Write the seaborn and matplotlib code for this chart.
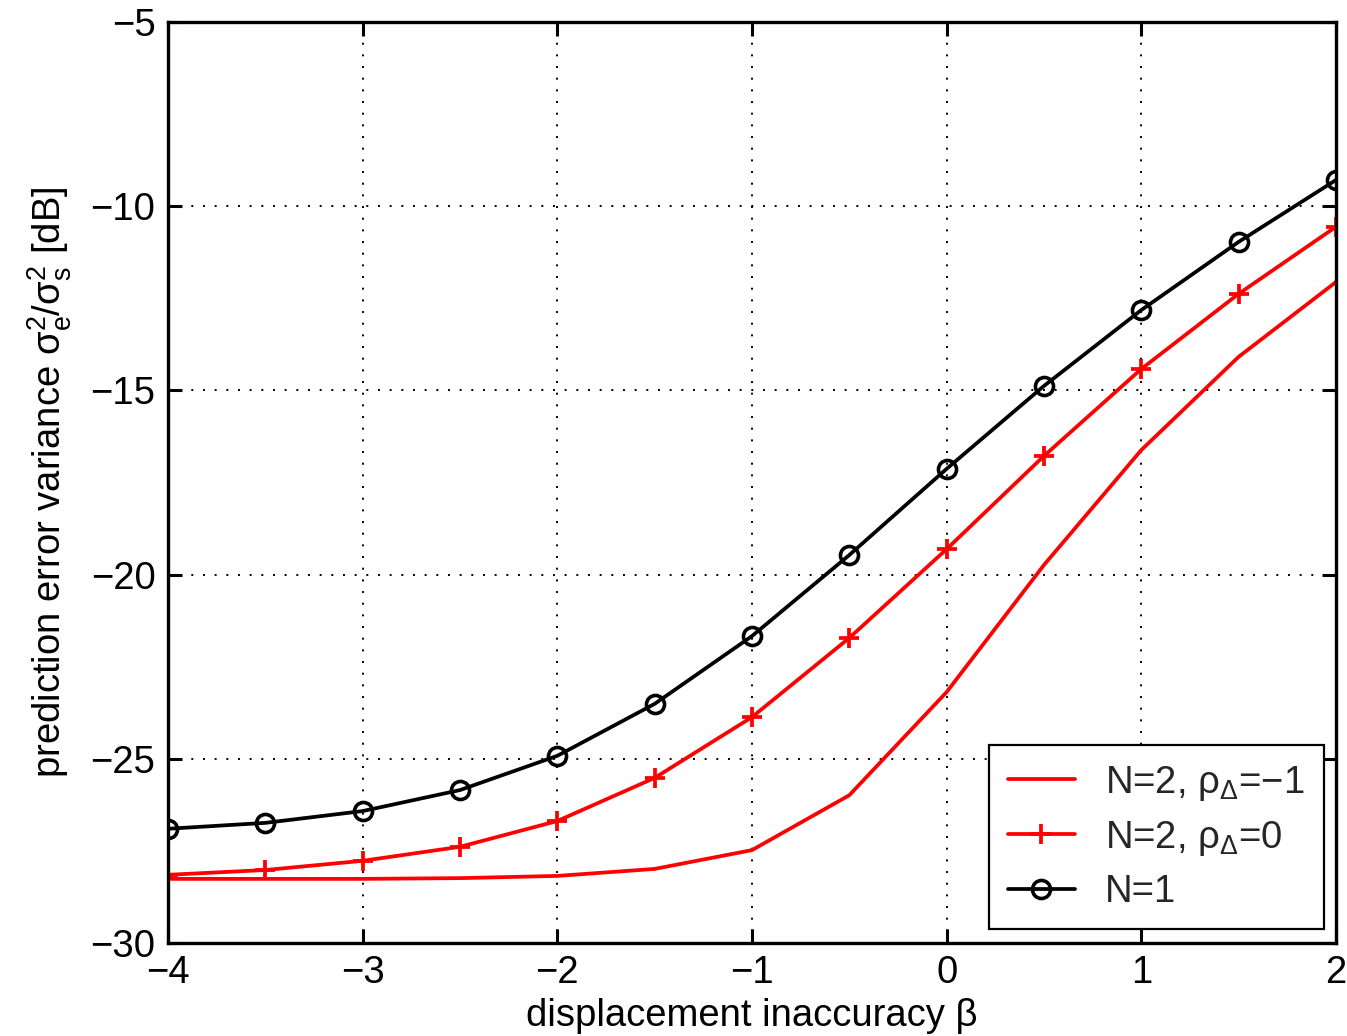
import numpy as np
import pandas as pd
import matplotlib
matplotlib.use("Agg")
import matplotlib.pyplot as plt
import seaborn as sns

beta = [-4.0, -3.5, -3.0, -2.5, -2.0, -1.5, -1.0, -0.5, 0.0, 0.5, 1.0, 1.5, 2.0]
n2_rho_m1 = [-28.26, -28.26, -28.26, -28.24, -28.18, -27.99, -27.48, -25.99, -23.19, -19.74, -16.62, -14.09, -12.06]
n2_rho_0 = [-28.15, -28.02, -27.77, -27.39, -26.69, -25.52, -23.87, -21.72, -19.31, -16.78, -14.42, -12.38, -10.56]
n1 = [-26.90, -26.74, -26.42, -25.85, -24.92, -23.51, -21.67, -19.47, -17.13, -14.88, -12.82, -10.97, -9.29]

labels = ['N=2, $\\rho_\\Delta$=\u22121', 'N=2, $\\rho_\\Delta$=0', 'N=1']
xticks = [-4, -3, -2, -1, 0, 1, 2]
yticks = [-30, -25, -20, -15, -10, -5]

sns.set_theme(style="white")
plt.rcParams['font.family'] = ['Liberation Sans', 'DejaVu Sans']
plt.rcParams['mathtext.default'] = 'regular'
plt.rcParams['axes.unicode_minus'] = True

FS = 27.5
LW = 2.7

fig = plt.figure(figsize=(13.47, 10.36), dpi=100)
ax = fig.add_axes([0.1247, 0.0898, 0.8671, 0.8890])

df = pd.DataFrame({'beta': beta, 'a': n2_rho_m1, 'b': n2_rho_0, 'c': n1})
sns.lineplot(data=df, x='beta', y='a', ax=ax, color='#ff0000', lw=LW, label=labels[0])
sns.lineplot(data=df, x='beta', y='b', ax=ax, color='#ff0000', lw=LW, marker='+',
             markersize=14, markeredgewidth=2.7, markeredgecolor='#ff0000', label=labels[1])
sns.lineplot(data=df, x='beta', y='c', ax=ax, color='black', lw=LW, marker='o',
             markersize=13, markerfacecolor='none', markeredgecolor='black',
             markeredgewidth=2.6, label=labels[2])

ax.set_xlim(-4, 2)
ax.set_ylim(-30, -5)
ax.set_xticks(xticks)
ax.set_yticks(yticks)
ax.grid(True, color='black', linestyle=(0, (1, 5)), linewidth=1.4)
ax.tick_params(direction='in', length=10, width=2.2, labelsize=FS, top=True, right=True,
               bottom=True, left=True, colors='black', pad=9)
for s in ax.spines.values():
    s.set_color('black')
    s.set_linewidth(2.4)

ax.set_xlabel('displacement inaccuracy \u03b2', fontsize=FS, labelpad=5, color='black')
ax.set_ylabel('prediction error variance $\\sigma_e^2/\\sigma_s^2$ [dB]', fontsize=FS,
              labelpad=12, color='black')

leg = ax.legend(loc='lower right', bbox_to_anchor=(0.9897, 0.0152), borderaxespad=0,
                fontsize=FS, frameon=True, fancybox=False, edgecolor='black',
                handlelength=1.75, handletextpad=0.8, labelspacing=0.42, borderpad=0.5)
leg.get_frame().set_linewidth(1.6)
leg.get_frame().set_facecolor('white')
leg.get_frame().set_alpha(1)

fig.savefig('out.png', dpi=100)
